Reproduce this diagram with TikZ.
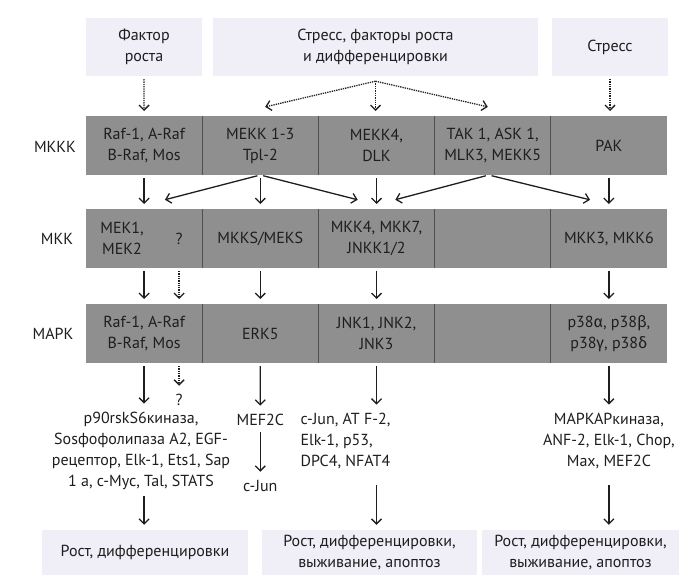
\documentclass[tikz,border=0pt]{standalone}
\usepackage{fontspec}
\setmainfont{PT Sans}
\newfontfamily\grk{Fira Sans}
\usetikzlibrary{arrows.meta,calc,positioning}
\definecolor{bargrey}{RGB}{143,143,143}
\definecolor{divgrey}{RGB}{80,80,80}
\definecolor{boxlav}{RGB}{240,238,246}
\definecolor{textgrey}{RGB}{30,30,30}

\begin{document}
\begin{tikzpicture}[x=1pt, y=-1pt, node distance=0pt,
		font=\fontsize{16}{21}\selectfont, text=textgrey,
		cell/.style={fill=bargrey, minimum width=116.2pt, minimum height=59pt, inner sep=0pt, outer sep=0pt, align=center},
		srcbox/.style={fill=boxlav, minimum height=58pt, inner sep=0pt, align=center},
		endbox/.style={fill=boxlav, minimum height=45pt, inner sep=0pt, align=center},
		divider/.style={draw=divgrey, line width=0.8pt},
		arr/.style={-{Straight Barb[length=5pt, width=10pt]}, line width=1.3pt, draw=textgrey, shorten <=3pt, shorten >=5pt},
		dotarr/.style={arr, densely dotted}]
		\useasboundingbox (0,0) rectangle (679,575);
		
		\node[srcbox, minimum width=116pt] (f1) at (144,47) {Фактор\\роста};
		\node[srcbox, minimum width=325pt] (f2) at (375.5,47) {Стресс, факторы роста\\и дифференцировки};
		\node[srcbox, minimum width=116pt] (f3) at (610,47) {Стресс};
		
		% MKKK
		\node[cell] (k1) at (144.1,145.5) {Raf-1, A-Raf\\B-Raf, Mos};
		\node[cell, right=of k1] (k2) {MEKK 1-3\\Tpl-2};
		\node[cell, right=of k2] (k3) {MEKK4,\\DLK};
		\node[cell, right=of k3] (k4) {TAK 1, ASK 1,\\MLK3, MEKK5};
		\node[cell, right=of k4] (k5) {PAK};
		
		% MKK
		\node[cell] (m1) at (144.1,238.5) {};
		\node[cell, right=of m1] (m2) {MKKS/MEKS};
		\node[cell, right=of m2] (m3) {MKK4, MKK7,\\JNKK1/2};
		\node[cell, right=of m3] (m4) {};
		\node[cell, right=of m4] (m5) {MKK3, MKK6};
		\node[align=center] (mek) at ([xshift=-22pt]m1.center) {MEK1,\\MEK2};
		\node (q1) at ([xshift=35pt]m1.center) {?};
		
		% MAPK
		\node[cell] (p1) at (144.1,333.5) {Raf-1, A-Raf\\B-Raf, Mos};
		\node[cell, right=of p1] (p2) {ERK5};
		\node[cell, right=of p2] (p3) {JNK1, JNK2,\\JNK3};
		\node[cell, right=of p3] (p4) {};
		\node[cell, right=of p4] (p5) {p38{\grk α}, p38{\grk β},\\p38{\grk γ}, p38{\grk δ}};
		
		\foreach \r in {k,m,p}
		\foreach \c in {1,...,4}
		\draw[divider] (\r\c.north east) -- (\r\c.south east);
		
		\node (lk) at (55,147) {MKKK};
		\node (lm) at (57,238.5) {MKK};
		\node (lp) at (53,334) {MAPK};
		
		% targets
		\node[align=center] (t1) at (141,451) {p90rskS6киназа,\\Sosфофолипаза A2, EGF-\\рецептор, Elk-1, Ets1, Sap\\1 a, c-Myc, Tal, STATS};
		\node (q2) at (q1 |- 0,400) {?};
		\node (e2) at (260.3,420) {MEF2C};
		\node (j2) at (260.3,486) {c-Jun};
		\node[align=left, anchor=west] (t3) at (297,441) {c-Jun, AT F-2,\\Elk-1, p53,\\DPC4, NFAT4};
		\node[align=center] (t5) at (608.9,441) {MAPKAPкиназа,\\ANF-2, Elk-1, Chop,\\Max, MEF2C};
		
		\node[endbox, minimum width=206pt] (b1) at (145,552.5) {Рост, дифференцировки};
		\node[endbox, minimum width=215pt] (b2) at (369.5,552.5) {Рост, дифференцировки,\\выживание, апоптоз};
		\node[endbox, minimum width=197pt] (b3) at (580.5,552.5) {Рост, дифференцировки,\\выживание, апоптоз};
		
		% dotted inputs
		\coordinate (fork) at ([yshift=-5pt]f2.south);
		\draw[dotarr] (f1.south) -- (k1.north);
		\draw[dotarr] (f3.south) -- (f3.south |- k5.north);
		\draw[dotarr, shorten <=0pt] (fork) -- (fork |- k3.north);
		\draw[dotarr, shorten <=0pt] (fork) -- ([yshift=8pt]k2.north);
		\draw[dotarr, shorten <=0pt] (fork) -- ([yshift=8pt]k4.north);
		
		% MKKK -> MKK
		\foreach \c in {1,2,3,5}
		\draw[arr] (k\c.south) -- (m\c.north);
		\draw[arr] (k2.south) -- ([xshift=16pt, yshift=8pt]m1.north);
		\draw[arr] (k2.south) -- ([xshift=-14pt, yshift=8pt]m3.north);
		\draw[arr] ([xshift=-4pt]k4.south) -- ([xshift=14pt, yshift=8pt]m3.north);
		\draw[arr] ([xshift=-4pt]k4.south) -- ([xshift=-14pt, yshift=8pt]m5.north);
		
		% MKK -> MAPK
		\foreach \c in {1,2,3,5}
		\draw[arr] (m\c.south) -- (p\c.north);
		\draw[dotarr] (q1 |- m1.south) -- (q1 |- p1.north);
		
		% MAPK -> targets
		\draw[arr] (p1.south) -- (p1.south |- t1.north);
		\draw[dotarr] (q1 |- p1.south) -- (q2.north);
		\draw[arr] (p2.south) -- (e2.north);
		\draw[arr] (e2.south) -- (j2.north);
		\draw[arr] (p3.south) -- (p3.south |- t3.north);
		\draw[arr] (p5.south) -- (p5.south |- t5.north);
		
		% targets -> outcomes
		\draw[arr] (p1.south |- t1.south) -- (p1.south |- b1.north);
		\draw[arr] (p3.south |- 0,482) -- (p3.south |- b2.north);
		\draw[arr] (p5.south |- 0,482) -- (p5.south |- b3.north);
	\end{tikzpicture}
\end{document}
